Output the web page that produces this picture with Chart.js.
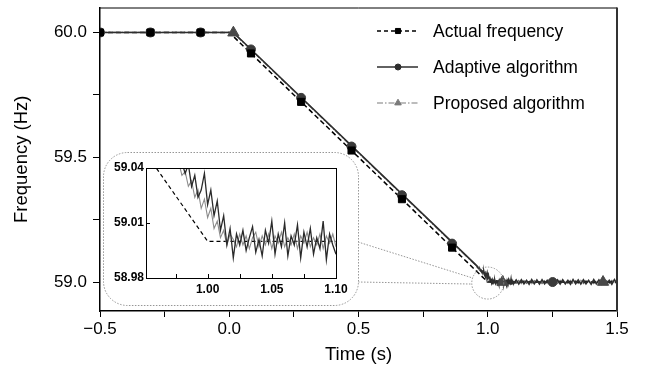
<!DOCTYPE html>
<html><head><meta charset="utf-8">
<script src="https://cdn.jsdelivr.net/npm/chart.js@4.4.1/dist/chart.umd.min.js"></script>
<style>
html,body{margin:0;padding:0;background:#fff;}
#wrap{position:relative;width:655px;height:373px;overflow:hidden;}
#main{position:absolute;left:0;top:0;}
#inset{position:absolute;left:103px;top:152px;}
</style></head><body>
<div id="wrap"><canvas id="main" width="655" height="373"></canvas><canvas id="inset" width="256" height="154"></canvas></div>
<script>
const FONT = '"Liberation Sans", Arial, Helvetica, sans-serif';

// ---- main axis ticks ----
const xTickValues = [-0.5, -0.25, 0, 0.25, 0.5, 0.75, 1.0, 1.25, 1.5];
const xTickLabels = ['\u22120.5', '', '0.0', '', '0.5', '', '1.0', '', '1.5'];
const yTickValues = [59.0, 59.25, 59.5, 59.75, 60.0];
const yTickLabels = ['59.0', '', '59.5', '', '60.0'];

// ---- inset axis ticks ----
const insetXTickValues = [1.00, 1.05, 1.10];
const insetXTickLabels = ['1.00', '1.05', '1.10'];
const insetYTickValues = [58.98, 59.01, 59.04];
const insetYTickLabels = ['58.98', '59.01', '59.04'];
const insetXMinor = [0.975, 1.0, 1.025, 1.05, 1.075];
const insetYMinor = [59.01];

// ---- series: Actual frequency ----
const actualT = [-0.5, 0.0, 1.0, 1.5];
const actualF = [60.0, 60.0, 59.0, 59.0];

// ---- series head (before the zoomed region) ----
const adaptiveHeadT = [-0.5, 0.016];
const adaptiveHeadF = [60.0, 60.0];
const proposedHeadT = [-0.5, 0.014];
const proposedHeadF = [60.0, 60.0];

// ---- zoomed region (0.955 .. 1.100 s) ----
const zoomT = [0.955, 0.9575, 0.96, 0.9625, 0.965, 0.9675, 0.97, 0.9725, 0.975, 0.9775,
  0.98, 0.9825, 0.985, 0.9875, 0.99, 0.9925, 0.995, 0.9975, 1.0, 1.0025,
  1.005, 1.0075, 1.01, 1.0125, 1.015, 1.0175, 1.02, 1.0225, 1.025, 1.0275,
  1.03, 1.0325, 1.035, 1.0375, 1.04, 1.0425, 1.045, 1.0475, 1.05, 1.0525,
  1.055, 1.0575, 1.06, 1.0625, 1.065, 1.0675, 1.07, 1.0725, 1.075, 1.0775,
  1.08, 1.0825, 1.085, 1.0875, 1.09, 1.0925, 1.095, 1.0975, 1.1];
const zoomAdaptiveF = [59.068, 59.064, 59.063, 59.057, 59.056, 59.050, 59.051, 59.045, 59.047, 59.041,
  59.043, 59.037, 59.042, 59.030, 59.036, 59.024, 59.028, 59.037, 59.020, 59.028,
  59.014, 59.022, 59.006, 59.014, 58.998, 59.007, 58.991, 59.004, 58.998, 59.006,
  58.995, 59.002, 59.008, 58.994, 59.001, 58.992, 59.006, 58.999, 59.011, 58.993,
  59.004, 58.997, 59.010, 58.992, 59.003, 58.998, 59.009, 58.991, 59.005, 58.997,
  59.007, 58.993, 59.002, 58.996, 59.011, 58.990, 59.004, 58.998, 58.993];
const zoomProposedF = [59.066, 59.066, 59.059, 59.060, 59.053, 59.054, 59.047, 59.048, 59.041, 59.043,
  59.036, 59.038, 59.030, 59.033, 59.024, 59.028, 59.018, 59.023, 59.013, 59.018,
  59.007, 59.011, 59.002, 59.006, 58.998, 59.004, 59.001, 58.997, 59.004, 58.998,
  59.003, 58.996, 59.002, 59.005, 58.997, 59.003, 58.998, 59.004, 58.996, 59.003,
  58.999, 59.005, 58.997, 59.002, 58.998, 59.004, 58.996, 59.003, 58.999, 59.005,
  58.997, 59.002, 58.998, 59.004, 58.996, 59.003, 58.999, 59.004, 58.997];

// ---- tail (1.11 .. 1.50 s) ----
const tailT = [1.11, 1.12, 1.13, 1.14, 1.15, 1.16, 1.17, 1.18, 1.19, 1.20,
  1.21, 1.22, 1.23, 1.24, 1.25, 1.26, 1.27, 1.28, 1.29, 1.30,
  1.31, 1.32, 1.33, 1.34, 1.35, 1.36, 1.37, 1.38, 1.39, 1.40,
  1.41, 1.42, 1.43, 1.44, 1.45, 1.46, 1.47, 1.48, 1.49, 1.50];
const tailAdaptiveF = [59.008, 58.992, 59.009, 58.993, 59.007, 58.991, 59.010, 58.993, 59.008, 58.992,
  59.009, 58.993, 59.007, 58.991, 59.010, 58.993, 59.008, 58.992, 59.009, 58.993,
  59.007, 58.991, 59.010, 58.993, 59.008, 58.992, 59.009, 58.993, 59.007, 58.991,
  59.010, 58.993, 59.008, 58.992, 59.009, 58.993, 59.007, 58.991, 59.010, 58.993];
const tailProposedF = [58.995, 59.006, 58.994, 59.005, 58.995, 59.006, 58.994, 59.005, 58.995, 59.006,
  58.994, 59.005, 58.995, 59.006, 58.994, 59.005, 58.995, 59.006, 58.994, 59.005,
  58.995, 59.006, 58.994, 59.005, 58.995, 59.006, 58.994, 59.005, 58.995, 59.006,
  58.994, 59.005, 58.995, 59.006, 58.994, 59.005, 58.995, 59.006, 58.994, 59.005];

// ---- markers ----
const actualMarkT = [-0.5, -0.305, -0.111, 0.084, 0.278, 0.473, 0.668, 0.862];
const actualMarkF = [60.0, 60.0, 60.0, 59.916, 59.722, 59.527, 59.332, 59.138];
const adaptiveMarkT = [-0.5, -0.305, -0.111, 0.084, 0.278, 0.473, 0.668, 0.862, 1.251];
const adaptiveMarkF = [60.0, 60.0, 60.0, 59.932, 59.738, 59.543, 59.348, 59.154, 59.0];
const proposedMarkT = [0.016, 1.057, 1.446];
const proposedMarkF = [59.999, 59.0, 59.0];

const adaptiveT = adaptiveHeadT.concat(zoomT, tailT);
const adaptiveF = adaptiveHeadF.concat(zoomAdaptiveF, tailAdaptiveF);
const proposedT = proposedHeadT.concat(zoomT, tailT);
const proposedF = proposedHeadF.concat(zoomProposedF, tailProposedF);

const pts = (t, f) => t.map((x, i) => ({x: x, y: f[i]}));

const C_ACT = '#000000', C_ADA = '#2e2e2e', C_PRO = '#7a7a7a', C_PRO_M = '#484848';

const legendItems = [
  {text: 'Actual frequency', color: C_ACT, dash: [4, 3], style: 'rect', r: 3.6, w: 1.3},
  {text: 'Adaptive algorithm', color: C_ADA, dash: [], style: 'circle', r: 3, w: 1.3},
  {text: 'Proposed algorithm', color: C_PRO, dash: [6, 2, 1.5, 2], style: 'triangle', r: 3.8, w: 1.1}
];

const mainPlugin = {
  id: 'mainDecor',
  afterDraw(chart) {
    const ctx = chart.ctx, a = chart.chartArea;
    const xs = chart.scales.x, ys = chart.scales.y;
    ctx.save();
    ctx.strokeStyle = '#000'; ctx.lineWidth = 1;
    ctx.beginPath(); ctx.moveTo(a.left, a.top + 0.5); ctx.lineTo(a.right, a.top + 0.5); ctx.stroke();
    ctx.strokeStyle = '#333'; ctx.lineWidth = 2;
    ctx.beginPath(); ctx.moveTo(a.right, a.top); ctx.lineTo(a.right, a.bottom); ctx.stroke();
    const lx0 = 377, lx1 = 418, lm = 398, tx = 433, ly = [31, 67, 103];
    legendItems.forEach((it, i) => {
      const y = ly[i];
      ctx.strokeStyle = it.color; ctx.lineWidth = it.w; ctx.setLineDash(it.dash);
      ctx.beginPath(); ctx.moveTo(lx0, y); ctx.lineTo(lx1, y); ctx.stroke();
      ctx.setLineDash([]);
      ctx.fillStyle = it.color; ctx.strokeStyle = it.color; ctx.lineWidth = 1;
      Chart.helpers.drawPoint(ctx, {pointStyle: it.style, radius: it.r, rotation: 0, borderWidth: 1}, lm, y);
      ctx.fillStyle = '#000'; ctx.font = '17.5px ' + FONT; ctx.textBaseline = 'middle'; ctx.textAlign = 'left';
      ctx.fillText(it.text, tx, y + 1);
    });
    const cx = xs.getPixelForValue(1.0), cy = ys.getPixelForValue(59.0);
    ctx.strokeStyle = '#8a8a8a'; ctx.lineWidth = 0.9; ctx.setLineDash([1.5, 1.5]);
    ctx.beginPath(); ctx.arc(cx, cy + 1, 16, 0, Math.PI * 2); ctx.stroke();
    ctx.beginPath(); ctx.moveTo(358, 242); ctx.lineTo(cx - 15, cy - 4); ctx.stroke();
    ctx.beginPath(); ctx.moveTo(358, 282); ctx.lineTo(cx - 16, cy + 2); ctx.stroke();
    ctx.restore();
  }
};

new Chart(document.getElementById('main'), {
  type: 'line',
  data: {
    datasets: [
      {data: pts(proposedMarkT, proposedMarkF), showLine: false, pointStyle: 'triangle', pointRadius: 6.5,
       backgroundColor: C_PRO_M, borderColor: C_PRO_M, pointBorderWidth: 1, clip: false},
      {data: pts(actualMarkT, actualMarkF), showLine: false, pointStyle: 'rect', pointRadius: 5,
       backgroundColor: C_ACT, borderColor: C_ACT, pointBorderWidth: 1},
      {data: pts(adaptiveMarkT, adaptiveMarkF), showLine: false, pointStyle: 'circle', pointRadius: 4.5,
       backgroundColor: '#3a3a3a', borderColor: '#3a3a3a', pointBorderWidth: 1},
      {data: pts(adaptiveT, adaptiveF), borderColor: C_ADA, borderWidth: 1.6, pointRadius: 0, tension: 0},
      {data: pts(actualT, actualF), borderColor: C_ACT, borderWidth: 1.5, borderDash: [5, 3], pointRadius: 0, tension: 0},
      {data: pts(proposedT, proposedF), borderColor: '#666666', borderWidth: 1.3, borderDash: [7, 2, 1.5, 2], pointRadius: 0, tension: 0}
    ]
  },
  options: {
    responsive: false, animation: false, devicePixelRatio: 1, events: [],
    layout: {padding: {top: 4, right: 38, left: 0, bottom: 0}},
    plugins: {legend: {display: false}, tooltip: {enabled: false}},
    scales: {
      x: {
        type: 'linear', min: -0.5, max: 1.5,
        afterBuildTicks: s => { s.ticks = xTickValues.map(v => ({value: v})); },
        afterFit: s => { s.height = 62; s.paddingLeft = 0; s.paddingRight = 0; },
        ticks: {font: {family: FONT, size: 17}, color: '#000', padding: 2, maxRotation: 0, autoSkip: false,
                callback: (v, i) => xTickLabels[i]},
        grid: {display: true, drawOnChartArea: false, drawTicks: true, tickLength: 6, tickColor: '#000', tickWidth: 1},
        border: {display: true, color: '#000', width: 1.5},
        title: {display: true, text: 'Time (s)', color: '#000', font: {family: FONT, size: 18.5}, padding: {top: 0, bottom: 7}}
      },
      y: {
        type: 'linear', min: 58.884, max: 60.1,
        afterBuildTicks: s => { s.ticks = yTickValues.map(v => ({value: v})); },
        afterFit: s => { s.width = 100; s.paddingTop = 0; s.paddingBottom = 0; },
        ticks: {font: {family: FONT, size: 17}, color: '#000', padding: 6, autoSkip: false,
                callback: (v, i) => yTickLabels[i]},
        grid: {display: true, drawOnChartArea: false, drawTicks: true, tickLength: 7, tickColor: '#000', tickWidth: 1},
        border: {display: true, color: '#000', width: 1.5},
        title: {display: true, text: 'Frequency (Hz)', color: '#000', font: {family: FONT, size: 18.5}, padding: {top: 11, bottom: 0}}
      }
    }
  },
  plugins: [mainPlugin]
});

// ---------- inset ----------
const insetPlugin = {
  id: 'insetDecor',
  beforeDraw(chart) {
    const ctx = chart.ctx, w = chart.width, h = chart.height, r = 24;
    const x0 = 0.5, y0 = 0.5, x1 = w - 0.5, y1 = h - 0.5;
    ctx.save();
    ctx.beginPath();
    ctx.moveTo(x0 + r, y0); ctx.lineTo(x1 - r, y0); ctx.arcTo(x1, y0, x1, y0 + r, r);
    ctx.lineTo(x1, y1 - r); ctx.arcTo(x1, y1, x1 - r, y1, r);
    ctx.lineTo(x0 + r, y1); ctx.arcTo(x0, y1, x0, y1 - r, r);
    ctx.lineTo(x0, y0 + r); ctx.arcTo(x0, y0, x0 + r, y0, r);
    ctx.closePath();
    ctx.fillStyle = '#fff'; ctx.fill();
    ctx.strokeStyle = '#8a8a8a'; ctx.lineWidth = 0.9; ctx.setLineDash([1.5, 1.5]); ctx.stroke();
    ctx.restore();
  },
  afterDraw(chart) {
    const ctx = chart.ctx, a = chart.chartArea, xs = chart.scales.x, ys = chart.scales.y;
    ctx.save();
    ctx.strokeStyle = '#000'; ctx.lineWidth = 1;
    ctx.strokeRect(Math.round(a.left) + 0.5, Math.round(a.top) + 0.5, Math.round(a.right - a.left), Math.round(a.bottom - a.top));
    ctx.beginPath();
    insetXMinor.forEach(v => { const x = Math.round(xs.getPixelForValue(v)) + 0.5; ctx.moveTo(x, a.bottom); ctx.lineTo(x, a.bottom - 4); });
    insetYMinor.forEach(v => { const y = Math.round(ys.getPixelForValue(v)) + 0.5; ctx.moveTo(a.left, y); ctx.lineTo(a.left + 4, y); });
    ctx.stroke();
    ctx.restore();
  }
};

new Chart(document.getElementById('inset'), {
  type: 'line',
  data: {
    datasets: [
      {data: pts(adaptiveT, adaptiveF), borderColor: '#2a2a2a', borderWidth: 1.3, pointRadius: 0, tension: 0},
      {data: pts(proposedT, proposedF), borderColor: '#8c8c8c', borderWidth: 1.1, pointRadius: 0, tension: 0},
      {data: pts(actualT, actualF), borderColor: '#000', borderWidth: 1.2, borderDash: [4, 3], pointRadius: 0, tension: 0}
    ]
  },
  options: {
    responsive: false, animation: false, devicePixelRatio: 1, events: [],
    layout: {padding: {top: 16, right: 23, left: 0, bottom: 0}},
    plugins: {legend: {display: false}, tooltip: {enabled: false}},
    scales: {
      x: {
        type: 'linear', min: 0.952, max: 1.1,
        afterBuildTicks: s => { s.ticks = insetXTickValues.map(v => ({value: v})); },
        afterFit: s => { s.height = 28; s.paddingLeft = 0; s.paddingRight = 0; },
        ticks: {font: {family: FONT, size: 12, weight: 'bold'}, color: '#000', padding: 4, maxRotation: 0, autoSkip: false,
                callback: (v, i) => insetXTickLabels[i]},
        grid: {display: false, drawTicks: false},
        border: {display: false}
      },
      y: {
        type: 'linear', min: 58.98, max: 59.04,
        afterBuildTicks: s => { s.ticks = insetYTickValues.map(v => ({value: v})); },
        afterFit: s => { s.width = 43; s.paddingTop = 0; s.paddingBottom = 0; },
        ticks: {font: {family: FONT, size: 12, weight: 'bold'}, color: '#000', padding: 2, autoSkip: false,
                callback: (v, i) => insetYTickLabels[i]},
        grid: {display: false, drawTicks: false},
        border: {display: false}
      }
    }
  },
  plugins: [insetPlugin]
});
</script>
</body></html>
